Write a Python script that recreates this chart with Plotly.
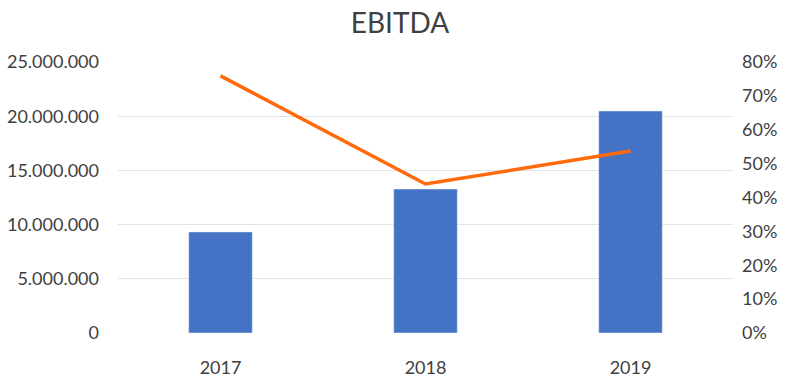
import plotly.graph_objects as go

years = ["2017", "2018", "2019"]
ebitda = [9320000, 13280000, 20480000]
margin_pct = [0.759, 0.440, 0.537]

left_ticks = [0, 5000000, 10000000, 15000000, 20000000, 25000000]
left_labels = ["0", "5.000.000", "10.000.000", "15.000.000", "20.000.000", "25.000.000"]
right_ticks = [0, 0.1, 0.2, 0.3, 0.4, 0.5, 0.6, 0.7, 0.8]
right_labels = ["0%", "10%", "20%", "30%", "40%", "50%", "60%", "70%", "80%"]

font_family = "Lato, 'Open Sans', sans-serif"
txt = "#404040"

fig = go.Figure()
fig.add_trace(go.Bar(x=years, y=ebitda, marker_color="#4472C4", width=0.31,
                     name="EBITDA", yaxis="y"))
fig.add_trace(go.Scatter(x=years, y=margin_pct, mode="lines",
                         line=dict(color="#FF6A0D", width=3.5), name="Margin", yaxis="y2"))

fig.update_layout(
    width=800, height=385,
    margin=dict(l=118, r=67, t=62, b=52),
    paper_bgcolor="white", plot_bgcolor="white",
    showlegend=False,
    title=dict(text="EBITDA", x=0.5, xanchor="center", y=0.94, yanchor="middle",
               font=dict(family=font_family, size=28, color=txt)),
    font=dict(family=font_family, size=18, color=txt),
    xaxis=dict(showline=False, showgrid=False, ticks="", tickfont=dict(size=18, color=txt),
               ticklabelstandoff=22, automargin=False),
    yaxis=dict(range=[0, 25000000], tickvals=left_ticks, ticktext=left_labels,
               showgrid=True, gridcolor="#E3E3E3", gridwidth=1, zeroline=False,
               showline=False, ticks="", ticklabelstandoff=18, automargin=False,
               tickfont=dict(size=18, color=txt)),
    yaxis2=dict(range=[0, 0.8], tickvals=right_ticks, ticktext=right_labels,
                overlaying="y", side="right", showgrid=False, zeroline=False,
                showline=False, ticks="", ticklabelstandoff=8, automargin=False,
                tickfont=dict(size=18, color=txt)),
)

fig.write_html("out.html", config={"displayModeBar": False},
               post_script="document.body.style.margin='0';")
